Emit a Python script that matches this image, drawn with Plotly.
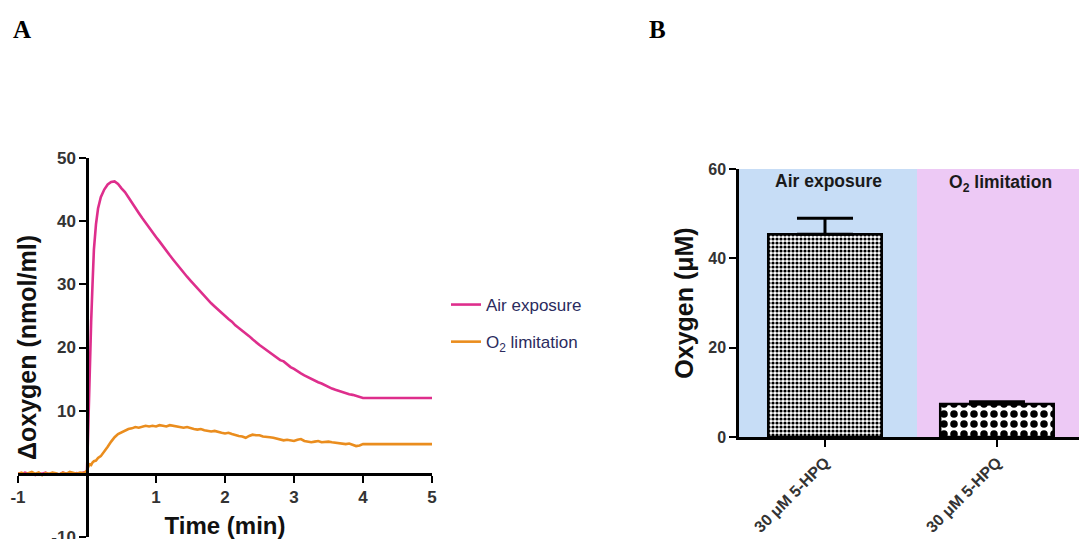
import plotly.graph_objects as go

# ---- Panel A: oxygen trace over time ----
time_min = [
    -1.00, -0.95, -0.90, -0.85, -0.80, -0.75, -0.70, -0.65, -0.60, -0.55,
    -0.50, -0.45, -0.40, -0.35, -0.30, -0.25, -0.20, -0.15, -0.10, -0.05,
    0.00,
    0.02, 0.04, 0.06, 0.08, 0.10, 0.13, 0.16, 0.20, 0.25, 0.30, 0.35, 0.40, 0.45,
    0.50, 0.55, 0.60, 0.65, 0.70, 0.75, 0.80, 0.85, 0.90, 0.95,
    1.00, 1.05, 1.10, 1.15, 1.20, 1.25, 1.30, 1.35, 1.40, 1.45,
    1.50, 1.55, 1.60, 1.65, 1.70, 1.75, 1.80, 1.85, 1.90, 1.95,
    2.00, 2.05, 2.10, 2.15, 2.20, 2.25, 2.30, 2.35, 2.40, 2.45,
    2.50, 2.55, 2.60, 2.65, 2.70, 2.75, 2.80, 2.85, 2.90, 2.95,
    3.00, 3.05, 3.10, 3.15, 3.20, 3.25, 3.30, 3.35, 3.40, 3.45,
    3.50, 3.55, 3.60, 3.65, 3.70, 3.75, 3.80, 3.85, 3.90, 3.95,
    4.00, 4.50, 5.00,
]

air_exposure = [
    0.1, -0.1, 0.2, 0.0, 0.1, -0.2, 0.1, 0.0, 0.2, -0.1,
    0.1, 0.0, -0.1, 0.2, 0.0, 0.1, -0.1, 0.1, 0.0, 0.2,
    0.3,
    8.0, 17.0, 24.0, 30.0, 35.5, 39.5, 42.0, 43.8, 45.0, 45.8, 46.2, 46.3, 45.9,
    45.2, 44.6, 43.8, 42.9, 42.1, 41.3, 40.5, 39.7, 39.0, 38.2,
    37.5, 36.8, 36.0, 35.4, 34.6, 33.9, 33.2, 32.6, 31.9, 31.2,
    30.6, 30.0, 29.4, 28.7, 28.2, 27.5, 27.0, 26.5, 26.0, 25.4,
    25.0, 24.5, 24.1, 23.5, 23.1, 22.7, 22.2, 21.8, 21.3, 20.8,
    20.4, 20.0, 19.6, 19.3, 18.8, 18.4, 18.0, 17.8, 17.3, 16.9,
    16.6, 16.2, 15.9, 15.6, 15.3, 15.0, 14.7, 14.5, 14.3, 14.0,
    13.8, 13.5, 13.3, 13.1, 12.9, 12.8, 12.6, 12.5, 12.3, 12.1,
    12.0, 12.0, 12.0,
]

o2_limitation = [
    0.0, 0.2, -0.1, 0.1, 0.3, 0.0, 0.2, -0.2, 0.1, 0.0,
    0.2, 0.1, -0.1, 0.2, 0.0, 0.3, 0.1, 0.0, 0.2, 0.1,
    0.5,
    1.2, 1.5, 1.4, 1.8, 2.0, 2.1, 2.5, 2.8, 3.5, 4.3, 5.1, 5.8, 6.3,
    6.6, 6.9, 7.1, 7.2, 7.4, 7.3, 7.5, 7.6, 7.5, 7.6,
    7.5, 7.7, 7.6, 7.5, 7.7, 7.6, 7.5, 7.4, 7.3, 7.4,
    7.2, 7.1, 7.0, 7.1, 6.9, 6.8, 6.7, 6.8, 6.6, 6.5,
    6.4, 6.5, 6.3, 6.1, 6.0, 5.9, 5.7, 6.0, 6.2, 6.1,
    6.1, 5.9, 5.9, 5.8, 5.7, 5.6, 5.5, 5.3, 5.4, 5.3,
    5.2, 5.4, 5.5, 5.2, 5.1, 5.0, 5.1, 5.2, 5.0, 5.1,
    5.1, 5.0, 4.9, 4.9, 4.8, 4.7, 4.8, 4.6, 4.4, 4.5,
    4.7, 4.7, 4.7,
]

a_xticks = [-1, 1, 2, 3, 4, 5]
a_xticklabels = ["-1", "1", "2", "3", "4", "5"]
a_yticks = [-10, 10, 20, 30, 40, 50]
a_yticklabels = ["-10", "10", "20", "30", "40", "50"]

# ---- Panel B: oxygen released ----
b_positions = [0, 1]
b_labels = ["30 \u03bcM 5-HPQ", "30 \u03bcM 5-HPQ"]
b_oxygen = [45.4, 7.4]
b_error = [3.6, 0.5]
b_groups = ["Air exposure", "O<sub>2</sub> limitation"]
b_yticks = [0, 20, 40, 60]

W, H = 1079, 539
PINK = "#DE2E8C"
ORANGE = "#EA8D1E"
SANS = "Liberation Sans"


def px_x(p):
    return p / W


def px_y(p):
    return 1 - p / H


fig = go.Figure()

fig.add_trace(go.Scatter(
    x=time_min, y=air_exposure, mode="lines", name="Air exposure",
    line=dict(color=PINK, width=2.6), legendgroup="a1",
    xaxis="x", yaxis="y"))
fig.add_trace(go.Scatter(
    x=time_min, y=o2_limitation, mode="lines", name="O<sub>2</sub> limitation",
    line=dict(color=ORANGE, width=2.6), legendgroup="a2",
    xaxis="x", yaxis="y"))

fig.add_trace(go.Bar(
    x=b_positions, y=b_oxygen, width=0.66, showlegend=False,
    marker=dict(
        color="white",
        line=dict(color="black", width=2.5),
        pattern=dict(shape=".", size=[4, 10], solidity=[0.5, 0.45],
                     fgcolor="black", bgcolor="white", fgopacity=1),
    ),
    error_y=dict(type="data", symmetric=False, array=b_error,
                 arrayminus=[0, 0], color="black", thickness=3, width=28),
    xaxis="x2", yaxis="y2"))


def axis_style(size):
    return dict(showline=True, linecolor="black", linewidth=2.5,
                ticks="outside", tickcolor="black", tickwidth=2, ticklen=7,
                showgrid=False, zeroline=False, automargin=False,
                ticklabeloverflow="allow",
                tickfont=dict(family=SANS, size=size, color="#333333", weight="bold"))


def title_font(size):
    return dict(family=SANS, size=size, color="#111111", weight="bold")


fig.update_layout(
    width=W, height=H,
    margin=dict(l=0, r=0, t=0, b=0, pad=0),
    paper_bgcolor="white", plot_bgcolor="rgba(0,0,0,0)",
    font=dict(family=SANS),
    xaxis=dict(**axis_style(17), domain=[px_x(18), px_x(432)], range=[-1, 5],
               anchor="free", position=px_y(474),
               tickvals=a_xticks, ticktext=a_xticklabels,
               title=dict(text="Time (min)", font=title_font(24), standoff=12)),
    yaxis=dict(**axis_style(17), domain=[px_y(537), px_y(158)], range=[-10, 50],
               anchor="free", position=px_x(87),
               tickvals=a_yticks, ticktext=a_yticklabels,
               title=dict(text="\u0394oxygen (nmol/ml)", font=title_font(25), standoff=6)),
    xaxis2=dict(**axis_style(16), domain=[px_x(739), 1.0], range=[-0.5, 1.477],
                anchor="y2", tickvals=b_positions, ticktext=b_labels, tickangle=-45),
    yaxis2=dict(**axis_style(16), domain=[px_y(437), px_y(169)], range=[0, 60],
                anchor="x2", tickvals=b_yticks,
                title=dict(text="Oxygen (\u03bcM)", font=title_font(25), standoff=8)),
    legend=dict(x=px_x(446), y=px_y(287), xanchor="left", yanchor="top",
                bgcolor="rgba(0,0,0,0)", tracegroupgap=12,
                font=dict(family=SANS, size=17, color="#2B2B5E")),
    shapes=[
        dict(type="rect", xref="x2", yref="y2", x0=-0.5, x1=0.535, y0=0, y1=60,
             fillcolor="#C7DDF6", line=dict(width=0), layer="below"),
        dict(type="rect", xref="x2", yref="y2", x0=0.535, x1=1.477, y0=0, y1=60,
             fillcolor="#EDC9F5", line=dict(width=0), layer="below"),
    ],
    annotations=[
        dict(text="<b>A</b>", xref="paper", yref="paper", x=px_x(11), y=px_y(30),
             xanchor="left", yanchor="middle", showarrow=False,
             font=dict(family="Liberation Serif", size=25, color="black")),
        dict(text="<b>B</b>", xref="paper", yref="paper", x=px_x(647), y=px_y(30),
             xanchor="left", yanchor="middle", showarrow=False,
             font=dict(family="Liberation Serif", size=25, color="black")),
        dict(text=b_groups[0], xref="x2", yref="paper", x=0.02, y=px_y(181),
             xanchor="center", yanchor="middle", showarrow=False,
             font=dict(family=SANS, size=17.5, color="#1a1a1a", weight="bold")),
        dict(text=b_groups[1], xref="x2", yref="paper", x=1.02, y=px_y(183),
             xanchor="center", yanchor="middle", showarrow=False,
             font=dict(family=SANS, size=17.5, color="#1a1a1a", weight="bold")),
    ],
)

fig.write_html("out.html")
